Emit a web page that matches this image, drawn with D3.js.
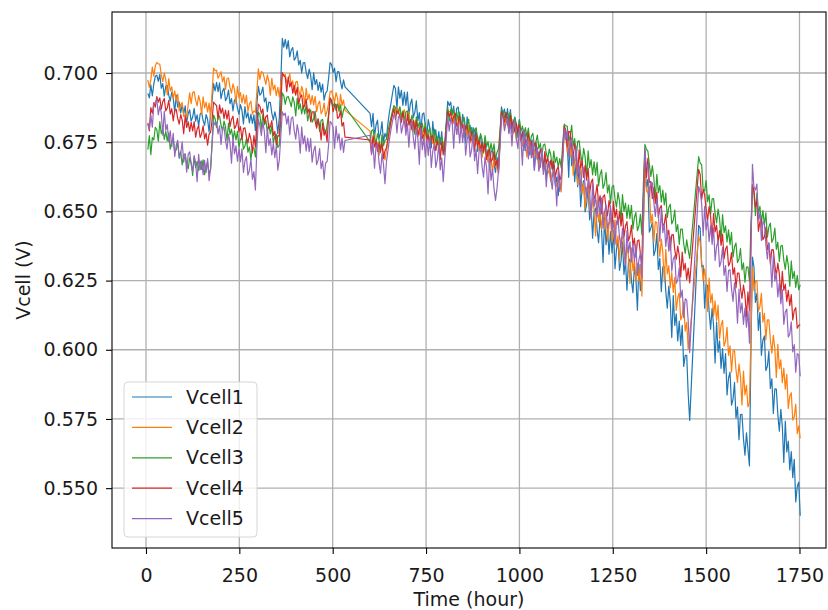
<!DOCTYPE html>
<html>
<head>
<meta charset="utf-8">
<script src="https://cdn.jsdelivr.net/npm/d3@7"></script>
<style>
  body { margin: 0; background: #fff; }
  text { font-family: "DejaVu Sans", sans-serif; fill: #1a1a1a; }
</style>
</head>
<body>
<script>
const width = 828;
const height = 610;
const margin = { top: 12, right: 2, bottom: 62, left: 112 };

// recorded stretches of the test, one reading every 4 hours
const timeSegments = [[5, 533], [600, 1456], [1480, 1752]];
const timeStep = 4;

const xTicks = [0, 250, 500, 750, 1000, 1250, 1500, 1750];
const yTicks = [0.550, 0.575, 0.600, 0.625, 0.650, 0.675, 0.700];
const seriesNames = ["Vcell1", "Vcell2", "Vcell3", "Vcell4", "Vcell5"];
const colors = ["#1f77b4", "#ff7f0e", "#2ca02c", "#d62728", "#9467bd"];

// cell voltages in units of 0.1 mV
const vcell1 = [
  // 5 .. 533 h
  6926,6910,6957,6917,6961,6988,6992,6970,6995,6945,6962,6916,6953,6955,6920,6898,6931,6909,6858,6920,
  6877,6895,6856,6886,6851,6881,6822,6853,6867,6826,6841,6872,6826,6849,6808,6851,6858,6828,6811,6850,
  6832,6787,6854,6900,6962,6935,6966,6933,6964,6907,6934,6945,6900,6911,6938,6889,6908,6863,6902,6905,
  6872,6851,6886,6865,6816,6879,6838,6857,6820,6851,6818,6849,6792,6890,6952,6920,6927,6949,6896,6910,
  6860,6895,6893,6855,6830,6860,6835,6781,6839,6970,7125,7093,7122,7087,7117,7058,7083,7092,7046,7055,
  7080,7029,7046,7000,7037,7038,7003,6980,7014,6991,6940,7001,6958,6976,6937,6966,6931,6960,6902,6927,
  6935,6980,7038,7030,7002,7018,6969,7005,7004,6968,6943,6975,6950,
  // 600 .. 1456 h
  6854,6806,6854,6770,6812,6830,6764,6782,6824,6752,6782,6765,6820,6860,6890,6925,6955,6944,6872,6950,
  6908,6937,6883,6931,6883,6931,6846,6888,6906,6840,6858,6899,6827,6857,6791,6851,6856,6808,6778,6832,
  6802,6729,6825,6765,6795,6741,6788,6740,6788,6704,6746,6820,6898,6882,6895,6850,6880,6813,6872,6877,
  6828,6798,6851,6820,6747,6842,6782,6811,6756,6803,6754,6802,6717,6758,6775,6708,6726,6767,6694,6723,
  6656,6716,6721,6672,6641,6695,6665,6770,6878,6850,6870,6824,6871,6822,6868,6783,6824,6841,6774,6791,
  6832,6759,6788,6720,6779,6784,6735,6704,6757,6726,6653,6748,6687,6715,6660,6707,6658,6705,6620,6661,
  6678,6611,6627,6668,6595,6624,6557,6616,6620,6690,6792,6785,6752,6623,6774,6665,6706,6607,6678,6589,
  6660,6517,6584,6611,6498,6525,6592,6469,6516,6403,6500,6512,6435,6387,6480,6432,6315,6477,6380,6432,
  6345,6427,6350,6431,6293,6364,6396,6287,6319,6390,6272,6323,6215,6316,6328,6250,6206,6301,6257,6143,
  6309,6214,6270,6450,6678,6587,6616,6425,6440,6460,6340,6360,6420,6290,6330,6210,6300,6300,6210,6150,
  6230,6172,6044,6196,6088,6130,6032,6104,6016,6088,5940,5980,5980,5840,5745,
  // 1480 .. 1752 h
  6450,6440,6300,6305,6150,6236,6232,6138,6074,6150,6086,5952,6100,5991,6032,5933,6004,5915,5986,5837,
  5898,5919,5800,5821,5882,5753,5794,5675,5766,5767,5678,5619,5700,5641,5580,6000,6335,6300,6171,6204,
  6070,6135,5980,6035,6050,5925,5940,5995,5860,5895,5770,5859,5858,5767,5706,5785,5724,5593,5742,5631,
  5670,5566,5632,5538,5604,5450,5506,5522,5400
];

const vcell2 = [
  6975,6948,6976,7021,6989,7026,7038,7033,7032,6994,6969,7000,6975,6921,6980,6935,6950,6908,6935,6898,
  6924,6863,6886,6893,6843,6850,6838,6885,6928,6889,6929,6933,6901,6881,6918,6898,6850,6914,6874,6895,
  6859,6891,6838,6930,7018,7008,7010,6981,6992,7005,6968,6987,6941,6980,6982,6948,6927,6961,6940,6890,
  6952,6911,6929,6892,6922,6888,6919,6861,6888,6898,6852,6863,6858,6935,7015,6977,7005,7002,6981,6959,
  6993,6970,6920,6981,6939,6956,6918,6948,6913,6960,6998,6990,6995,6964,6975,6998,6953,6972,6928,6967,
  6970,6937,6916,6952,6931,6882,6945,6904,6924,6887,6918,6885,6916,6860,6887,6898,6853,6864,6892,6843,
  6863,6890,6932,6935,6915,6894,6929,6909,6860,6923,6883,6902,6865,
  6790,6744,6754,6780,6730,6748,6702,6740,6742,6708,6686,6720,6750,6790,6825,6855,6880,6855,6875,6854,
  6872,6828,6856,6867,6822,6834,6861,6812,6832,6787,6826,6830,6797,6776,6811,6791,6742,6805,6765,6784,
  6747,6779,6746,6777,6720,6748,6759,6714,6726,6753,6704,6790,6866,6860,6862,6840,6818,6852,6829,6779,
  6841,6799,6817,6779,6809,6775,6805,6747,6773,6782,6736,6746,6772,6722,6740,6694,6732,6734,6700,6678,
  6712,6690,6640,6702,6660,6678,6640,6750,6850,6846,6809,6835,6844,6798,6808,6833,6783,6800,6754,6792,
  6793,6759,6736,6770,6748,6697,6759,6716,6734,6696,6725,6691,6720,6662,6688,6697,6651,6660,6686,6636,
  6653,6607,6644,6646,6612,6589,6623,6600,6570,6690,6788,6775,6714,6770,6697,6752,6631,6678,6694,6597,
  6612,6665,6565,6602,6510,6587,6591,6524,6480,6549,6505,6411,6541,6462,6504,6434,6500,6437,6503,6393,
  6451,6476,6390,6414,6469,6373,6412,6324,6403,6411,6346,6306,6377,6337,6240,6368,6286,6324,6250,6312,
  6246,6308,6194,6450,6658,6576,6566,6588,6458,6489,6391,6462,6460,6387,6337,6400,6350,6245,6363,6274,
  6304,6224,6279,6207,6262,6142,6189,6205,6108,6124,6172,6067,6099,6002,6050,
  6410,6390,6319,6249,6292,6244,6139,6259,6170,6202,6122,6177,6105,6161,6040,6088,6106,6013,6031,6081,
  5980,6014,5920,5995,5997,5927,5882,5948,5902,5801,5923,5837,5871,5794,5810,6050,6300,6214,6248,6250,
  6140,6156,6204,6100,6132,6036,6108,6108,6036,5988,6052,6004,5900,6020,5932,5964,5881,5934,5858,5911,
  5788,5833,5845,5746,5759,5804,5697,5725,5680
];

const vcell3 = [
  6723,6774,6705,6767,6758,6804,6795,6754,6824,6781,6799,6760,6789,6755,6784,6725,6751,6760,6713,6723,
  6748,6697,6715,6668,6705,6707,6672,6654,6693,6675,6630,6696,6658,6681,6647,6682,6652,6686,6633,6663,
  6678,6636,6651,6750,6848,6835,6803,6842,6845,6812,6791,6826,6805,6756,6819,6778,6797,6760,6791,6758,
  6789,6732,6759,6770,6725,6736,6763,6714,6733,6688,6727,6730,6697,6780,6858,6850,6797,6852,6813,6829,
  6788,6816,6780,6808,6748,6772,6779,6731,6739,6830,6928,6918,6887,6912,6915,6899,6878,6914,6894,6845,
  6909,6869,6889,6852,6884,6852,6884,6827,6855,6867,6822,6834,6862,6814,6833,6789,6829,6832,6800,6780,
  6811,6850,6900,6895,6880,6892,6864,6888,6864,6885,6838,6866,6878,
  6751,6791,6795,6764,6744,6780,6760,6712,6777,6737,6757,6760,6790,6815,6840,6862,6882,6875,6852,6864,
  6878,6843,6863,6819,6859,6863,6831,6811,6847,6827,6778,6842,6802,6822,6786,6818,6786,6818,6762,6789,
  6801,6757,6769,6797,6749,6769,6725,6764,6768,6736,6716,6810,6877,6826,6870,6848,6867,6830,6861,6828,
  6859,6802,6829,6840,6795,6806,6833,6784,6803,6758,6797,6800,6767,6746,6781,6760,6711,6774,6733,6752,
  6715,6746,6713,6744,6687,6714,6725,6790,6867,6862,6839,6858,6813,6852,6856,6823,6802,6837,6816,6767,
  6830,6789,6808,6772,6803,6770,6801,6744,6771,6782,6737,6749,6776,6727,6746,6701,6740,6743,6710,6690,
  6725,6704,6655,6718,6677,6696,6660,6691,6658,6745,6815,6809,6808,6756,6771,6811,6736,6763,6694,6752,
  6755,6706,6675,6728,6697,6624,6719,6658,6687,6632,6679,6630,6677,6592,6633,6650,6583,6600,6640,6567,
  6596,6529,6588,6594,6545,6515,6568,6538,6465,6561,6500,6530,6475,6523,6474,6522,6437,6479,6496,6430,
  6447,6489,6416,6600,6742,6725,6718,6670,6626,6665,6620,6543,6634,6568,6593,6534,6577,6523,6566,6477,
  6514,6526,6455,6468,6505,6427,6452,6381,6436,6436,6383,6348,6397,6361,6330,
  6698,6674,6669,6579,6574,6611,6535,6560,6489,6545,6546,6493,6458,6508,6473,6396,6488,6423,6448,6390,
  6433,6380,6424,6335,6372,6386,6315,6328,6366,6289,6314,6244,6299,6300,6248,6450,6592,6571,6485,6566,
  6492,6518,6460,6503,6451,6495,6407,6444,6458,6388,6402,6440,6363,6389,6319,6375,6377,6324,6290,6340,
  6306,6230,6321,6257,6283,6225,6269,6217,6235
];

const vcell4 = [
  6820,6791,6875,6854,6893,6877,6915,6895,6910,6869,6897,6908,6863,6874,6901,6852,6871,6827,6866,6869,
  6836,6815,6850,6830,6781,6844,6803,6824,6789,6822,6791,6824,6768,6797,6810,6767,6780,6809,6762,6783,
  6739,6780,6785,6830,6895,6888,6882,6833,6885,6854,6873,6835,6866,6833,6864,6806,6833,6844,6799,6809,
  6836,6787,6806,6760,6799,6802,6769,6747,6782,6761,6712,6774,6733,6820,6888,6880,6854,6870,6819,6842,
  6848,6799,6805,6828,6774,6789,6739,6774,6772,6880,7002,6990,6985,6933,6985,6950,6966,6927,6955,6920,
  6948,6888,6913,6921,6874,6882,6906,6855,6871,6824,6860,6860,6825,6801,6834,6810,6758,6819,6775,6792,
  6752,6840,6910,6902,6860,6882,6887,6836,6841,6863,6808,6821,6768,
  6758,6710,6773,6733,6753,6717,6748,6716,6748,6691,6719,6730,6765,6795,6825,6850,6870,6832,6862,6860,
  6842,6822,6858,6837,6789,6852,6812,6832,6795,6827,6794,6826,6770,6797,6809,6764,6776,6803,6755,6775,
  6730,6770,6773,6741,6720,6756,6736,6687,6751,6710,6730,6800,6862,6844,6858,6817,6844,6854,6808,6819,
  6845,6796,6814,6768,6807,6809,6776,6754,6788,6767,6717,6779,6738,6756,6718,6749,6715,6746,6688,6714,
  6724,6679,6689,6716,6666,6684,6638,6770,6860,6844,6823,6857,6835,6785,6848,6806,6824,6787,6817,6783,
  6813,6756,6782,6792,6747,6757,6783,6733,6752,6706,6744,6747,6713,6691,6725,6704,6654,6716,6674,6693,
  6655,6685,6652,6682,6624,6651,6661,6615,6626,6720,6808,6795,6734,6788,6788,6734,6698,6746,6710,6632,
  6722,6657,6682,6623,6666,6613,6656,6567,6604,6617,6546,6559,6597,6526,6557,6492,6553,6560,6513,6484,
  6539,6510,6439,6536,6477,6508,6452,6498,6447,6493,6407,6447,6463,6394,6410,6450,6376,6403,6335,6393,
  6397,6346,6314,6550,6722,6623,6692,6605,6608,6546,6586,6529,6569,6477,6511,6521,6446,6456,6490,6410,
  6432,6361,6415,6416,6362,6327,6375,6340,6263,6353,6288,6312,6253,6295,6242,
  6652,6634,6543,6579,6560,6506,6469,6517,6481,6402,6492,6426,6450,6389,6431,6377,6418,6328,6364,6375,
  6303,6315,6351,6272,6296,6224,6277,6277,6223,6186,6234,6198,6119,6209,6142,6400,6597,6575,6516,6538,
  6428,6462,6472,6398,6408,6442,6362,6384,6310,6362,6361,6305,6267,6313,6275,6195,6283,6215,6237,6175,
  6215,6159,6199,6108,6142,6152,6078,6088,6090
];

const vcell5 = [
  6815,6797,6849,6804,6886,6895,6905,6849,6880,6856,6775,6862,6793,6814,6752,6791,6734,6782,6698,6739,
  6757,6691,6709,6751,6678,6708,6642,6706,6715,6671,6644,6702,6675,6607,6706,6650,6683,6633,6684,6640,
  6691,6611,6656,6740,6825,6812,6822,6780,6809,6742,6800,6805,6756,6725,6778,6747,6674,6769,6708,6737,
  6681,6728,6679,6726,6641,6682,6698,6631,6648,6689,6616,6644,6577,6730,6832,6809,6774,6823,6788,6712,
  6803,6738,6763,6704,6747,6694,6737,6649,6686,6770,6860,6847,6855,6815,6844,6777,6836,6841,6792,6761,
  6814,6783,6710,6805,6744,6773,6718,6765,6716,6763,6678,6719,6736,6669,6686,6727,6654,6683,6616,6675,
  6680,6740,6825,6818,6804,6728,6808,6755,6780,6722,6765,6713,6756,
  6775,6705,6744,6656,6735,6743,6678,6638,6709,6669,6600,6680,6720,6760,6795,6825,6850,6848,6783,6842,
  6845,6783,6810,6840,6775,6817,6732,6815,6825,6764,6726,6801,6764,6670,6801,6723,6766,6697,6763,6702,
  6768,6659,6718,6744,6659,6685,6744,6650,6693,6607,6689,6760,6845,6790,6835,6823,6728,6830,6778,6819,
  6747,6812,6749,6814,6703,6759,6784,6697,6722,6779,6683,6724,6637,6718,6727,6663,6624,6697,6658,6563,
  6691,6612,6653,6582,6540,6583,6648,6730,6845,6838,6792,6818,6835,6781,6823,6736,6818,6827,6765,6727,
  6800,6762,6667,6797,6719,6760,6690,6755,6693,6759,6648,6706,6731,6645,6671,6728,6634,6675,6589,6671,
  6680,6618,6580,6653,6615,6520,6650,6572,6614,6700,6798,6759,6790,6698,6748,6765,6670,6686,6735,6633,
  6666,6575,6652,6658,6591,6548,6617,6574,6476,6601,6518,6555,6480,6546,6484,6549,6439,6497,6523,6437,
  6462,6520,6426,6468,6382,6464,6472,6408,6367,6439,6399,6303,6431,6350,6390,6318,6382,6318,6381,6269,
  6325,6349,6260,6520,6725,6657,6669,6552,6604,6603,6531,6482,6545,6497,6392,6511,6423,6454,6373,6429,
  6356,6408,6284,6328,6340,6240,6252,6296,6188,6216,6116,6184,6180,6104,5990,
  6590,6570,6530,6412,6518,6433,6468,6391,6450,6381,6440,6323,6374,6393,6300,6319,6370,6269,6304,6211,
  6286,6289,6220,6175,6242,6197,6096,6219,6134,6169,6092,6151,6082,6141,6024,6350,6670,6588,6577,6599,
  6468,6495,6395,6462,6457,6381,6328,6387,6334,6226,6341,6248,6276,6191,6242,6166,6217,6092,6136,6147,
  6046,6057,6101,5992,6019,5919,5986,5981,5904
];

const seriesValues = [vcell1, vcell2, vcell3, vcell4, vcell5];

const times = timeSegments.flatMap(([a, b]) => d3.range(a, b + 1, timeStep));

const svg = d3.select("body").append("svg")
    .attr("width", width)
    .attr("height", height);

const x = d3.scaleLinear()
    .domain([-91, 1821])
    .range([margin.left, width - margin.right]);

const y = d3.scaleLinear()
    .domain([0.52838, 0.72204])
    .range([height - margin.bottom, margin.top]);

const plotW = width - margin.left - margin.right;
const plotH = height - margin.top - margin.bottom;

svg.append("defs").append("clipPath")
    .attr("id", "plot-clip")
    .append("rect")
    .attr("x", margin.left)
    .attr("y", margin.top)
    .attr("width", plotW)
    .attr("height", plotH);

// grid
const grid = svg.append("g").attr("class", "grid");
grid.selectAll(".vgrid")
    .data(xTicks)
    .enter().append("line")
    .attr("x1", d => x(d)).attr("x2", d => x(d))
    .attr("y1", margin.top).attr("y2", height - margin.bottom)
    .attr("stroke", "#b0b0b0")
    .attr("stroke-width", 1.3);
grid.selectAll(".hgrid")
    .data(yTicks)
    .enter().append("line")
    .attr("x1", margin.left).attr("x2", width - margin.right)
    .attr("y1", d => y(d)).attr("y2", d => y(d))
    .attr("stroke", "#b0b0b0")
    .attr("stroke-width", 1.3);

// lines, Vcell5 ends up on top
const line = d3.line()
    .x(d => x(d.t))
    .y(d => y(d.v));

const lines = svg.append("g").attr("clip-path", "url(#plot-clip)");
seriesValues.forEach((vals, i) => {
    if (vals.length !== times.length) console.warn(seriesNames[i], vals.length, times.length);
    const pts = vals.map((n, k) => ({ t: times[k], v: n / 10000 }))
        .filter(d => d.t !== undefined);
    lines.append("path")
        .datum(pts)
        .attr("fill", "none")
        .attr("stroke", colors[i])
        .attr("stroke-width", 1.2)
        .attr("stroke-linejoin", "round")
        .attr("d", line);
});

// axes
const xAxis = d3.axisBottom(x)
    .tickValues(xTicks)
    .tickSize(6)
    .tickSizeOuter(0)
    .tickPadding(15)
    .tickFormat(d3.format("d"));

const yAxis = d3.axisLeft(y)
    .tickValues(yTicks)
    .tickSize(6)
    .tickSizeOuter(0)
    .tickPadding(8)
    .tickFormat(d3.format(".3f"));

const gx = svg.append("g")
    .attr("transform", `translate(0,${height - margin.bottom})`)
    .call(xAxis);
const gy = svg.append("g")
    .attr("transform", `translate(${margin.left},0)`)
    .call(yAxis);

[gx, gy].forEach(g => {
    g.select(".domain").remove();
    g.selectAll(".tick line").attr("stroke", "#000").attr("stroke-width", 1.1);
    g.selectAll(".tick text")
        .attr("font-size", 19)
        .attr("font-family", "DejaVu Sans")
        .attr("fill", "#1a1a1a");
});

// frame
svg.append("rect")
    .attr("x", margin.left)
    .attr("y", margin.top)
    .attr("width", plotW)
    .attr("height", plotH)
    .attr("fill", "none")
    .attr("stroke", "#000")
    .attr("stroke-width", 1.1);

// axis labels
svg.append("text")
    .attr("x", margin.left + plotW / 2)
    .attr("y", 606)
    .attr("text-anchor", "middle")
    .attr("font-size", 19)
    .text("Time (hour)");

svg.append("text")
    .attr("transform", `translate(30,${margin.top + plotH / 2}) rotate(-90)`)
    .attr("text-anchor", "middle")
    .attr("font-size", 19)
    .text("Vcell (V)");

// legend
const legend = svg.append("g").attr("transform", "translate(124,382)");
legend.append("rect")
    .attr("width", 133)
    .attr("height", 155)
    .attr("rx", 4)
    .attr("fill", "#fff")
    .attr("fill-opacity", 0.8)
    .attr("stroke", "#d6d6d6")
    .attr("stroke-width", 1);

const items = legend.selectAll(".item")
    .data(seriesNames)
    .enter().append("g")
    .attr("transform", (d, i) => `translate(0,${15 + i * 30.4})`);
items.append("line")
    .attr("x1", 8).attr("x2", 48)
    .attr("stroke", (d, i) => colors[i])
    .attr("stroke-width", 1.2);
items.append("text")
    .attr("x", 62)
    .attr("dy", "0.35em")
    .attr("font-size", 19)
    .text(d => d);
</script>
</body>
</html>
